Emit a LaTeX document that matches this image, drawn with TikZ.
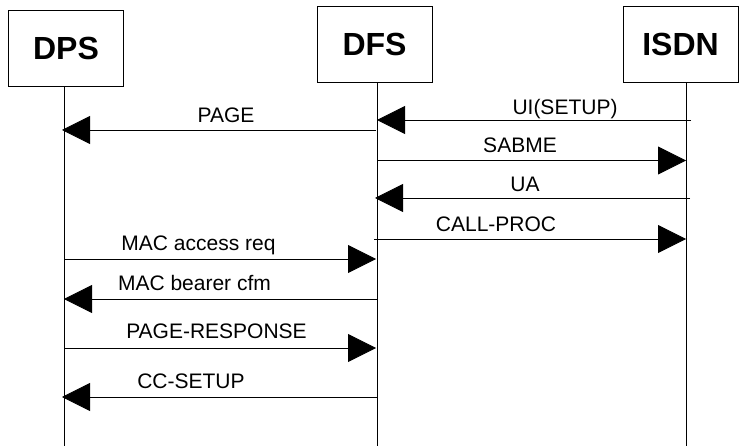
\documentclass[tikz,border=0pt]{standalone}
\usepackage{fontspec}
\setmainfont{Liberation Sans}
\usetikzlibrary{arrows.meta}
\begin{document}
\begin{tikzpicture}[x=1pt,y=-1pt,
  entity/.style={draw,line width=0.9pt,minimum width=115pt,minimum height=76pt,inner sep=0pt,font=\bfseries\fontsize{32}{38}\selectfont},
  life/.style={line width=0.8pt},
  msg/.style={line width=0.8pt,-{Triangle[length=28pt,width=28pt]}},
  lbl/.style={anchor=base,inner sep=0pt,font=\fontsize{21}{25}\selectfont}]
\useasboundingbox (0,0) rectangle (739,446);
% entities
\node[entity] (dps) at (66,48.5) {DPS};
\node[entity] (dfs) at (374.5,44) {DFS};
\node[entity] (isdn) at (680.5,44.5) {ISDN};
% lifeline ends
\coordinate (dpsend) at (64,446);
\coordinate (dfsend) at (377,446);
\coordinate (isdnend) at (686,446);
\draw[life] (dps.south -| dpsend) -- (dpsend);
\draw[life] (dfs.south -| dfsend) -- (dfsend);
\draw[life] (isdn.south -| isdnend) -- (isdnend);
% message end points
\coordinate (a1) at (691,120);  \coordinate (b1) at (377,120);
\coordinate (a2) at (376,130);  \coordinate (b2) at (62,130);
\coordinate (a3) at (377,160.5);\coordinate (b3) at (686,160.5);
\coordinate (a4) at (690,198);  \coordinate (b4) at (375,198);
\coordinate (a5) at (374,239);  \coordinate (b5) at (686,239);
\coordinate (a6) at (64,259);   \coordinate (b6) at (376,259);
\coordinate (a7) at (377,299);  \coordinate (b7) at (64,299);
\coordinate (a8) at (64,348);   \coordinate (b8) at (376,348);
\coordinate (a9) at (377,397);  \coordinate (b9) at (62,397);
% messages
\draw[msg] (a1) -- (b1);
\draw[msg] (a2) -- (b2);
\draw[msg] (a3) -- (b3);
\draw[msg] (a4) -- (b4);
\draw[msg] (a5) -- (b5);
\draw[msg] (a6) -- (b6);
\draw[msg] (a7) -- (b7);
\draw[msg] (a8) -- (b8);
\draw[msg] (a9) -- (b9);
% labels
\node[lbl] (l1) at (565,115) {UI(SETUP)};
\node[lbl] (l2) at (226,123) {PAGE};
\node[lbl] (l3) at (520,153) {SABME};
\node[lbl] (l4) at (525,192) {UA};
\node[lbl] (l5) at (496,232) {CALL-PROC};
\node[lbl] (l6) at (198.5,251) {MAC access req};
\node[lbl] (l7) at (194.5,291) {MAC bearer cfm};
\node[lbl] (l8) at (216.5,338) {PAGE-RESPONSE};
\node[lbl] (l9) at (191,388) {CC-SETUP};
\end{tikzpicture}
\end{document}
